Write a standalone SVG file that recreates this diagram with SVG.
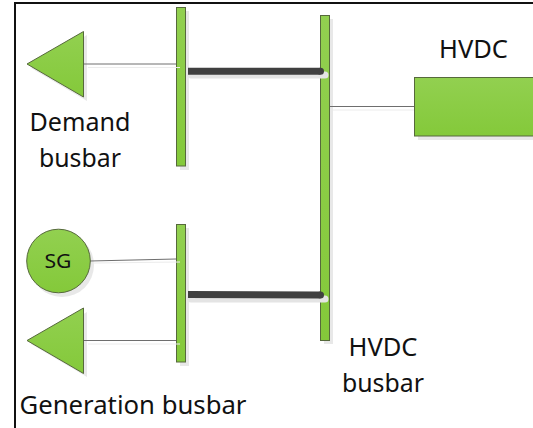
<svg xmlns="http://www.w3.org/2000/svg" width="533" height="428" viewBox="0 0 533 428">
<defs>
<linearGradient id="g" x1="0" y1="0" x2="0" y2="1"><stop offset="0" stop-color="#92d050"/><stop offset="1" stop-color="#84c93a"/></linearGradient>
</defs>
<style>
.n{fill:url(#g);stroke:#56693c;stroke-width:1}
.s{fill:#e8e8e8;stroke:none}
.t{font-family:"Noto Sans","Open Sans",sans-serif;font-size:25.500px;fill:#111;text-anchor:middle}
.thin{stroke:#6e6e6e;stroke-width:1;fill:none}
.thin2{stroke:#ececec;stroke-width:1;fill:none}
.busb{stroke:#404040;stroke-width:7;fill:none}
.cap{fill:#404040}
.bus2{stroke:#e4e4e4;stroke-width:7;stroke-linecap:round;fill:none}
</style>
<rect width="533" height="428" fill="#fff"/>
<path d="M15 428V3H533" fill="none" stroke="#111" stroke-width="2"/>
<g id="shadows">
<rect class="s" x="180" y="11" width="9" height="159"/>
<rect class="s" x="180" y="228" width="9" height="138"/>
<rect class="s" x="324" y="19" width="9" height="325"/>
<rect class="s" x="418" y="81" width="115" height="59"/>
<polygon class="s" points="31,68 87,35 87,101"/>
<polygon class="s" points="31,344 87,312 87,377"/>
<circle class="s" cx="62" cy="265" r="32"/>
</g>
<g id="demand-busbar"><rect class="n" x="176.500" y="7.500" width="9" height="158.500"/></g>
<g id="generation-busbar"><rect class="n" x="176.500" y="224.500" width="9" height="137.500"/></g>
<g id="hvdc-busbar"><rect class="n" x="320.500" y="15.500" width="9" height="325"/></g>
<g id="connectors">
<path class="thin2" d="M88 67.500H180M94 263L180 262M88 344H180M333 110H418"/>
<path class="thin" d="M84 64H176M90 261L176 259M84 340.500H176M330 106.500H414"/>
<path class="bus2" d="M191 75H325M191 299H325"/>
<path class="busb" d="M188 71.300H320.500M188 294.400L320.500 295"/>
<circle class="cap" cx="320.500" cy="71.300" r="3.500"/>
<circle class="cap" cx="320.500" cy="295" r="3.500"/>
</g>
<g id="hvdc"><rect class="n" x="414.500" y="77.500" width="125" height="58.500"/><text class="t" x="473.500" y="58" textLength="69" lengthAdjust="spacingAndGlyphs">HVDC</text></g>
<g id="demand-load"><polygon class="n" points="27,64 83.500,31.500 83.500,97"/></g>
<g id="generation-load"><polygon class="n" points="27,340.500 83.500,308 83.500,373.500"/></g>
<g id="sg"><circle class="n" cx="58.500" cy="261" r="31.800"/><text class="t" x="58" y="268" style="font-size:20px" textLength="27" lengthAdjust="spacingAndGlyphs">SG</text></g>
<g id="labels">
<text class="t" x="80" y="131" textLength="101" lengthAdjust="spacingAndGlyphs">Demand</text>
<text class="t" x="80" y="167" textLength="82" lengthAdjust="spacingAndGlyphs">busbar</text>
<text class="t" x="383" y="356" textLength="69" lengthAdjust="spacingAndGlyphs">HVDC</text>
<text class="t" x="383" y="392" textLength="82" lengthAdjust="spacingAndGlyphs">busbar</text>
<text class="t" x="133" y="414" textLength="227" lengthAdjust="spacingAndGlyphs">Generation busbar</text>
</g>
</svg>
